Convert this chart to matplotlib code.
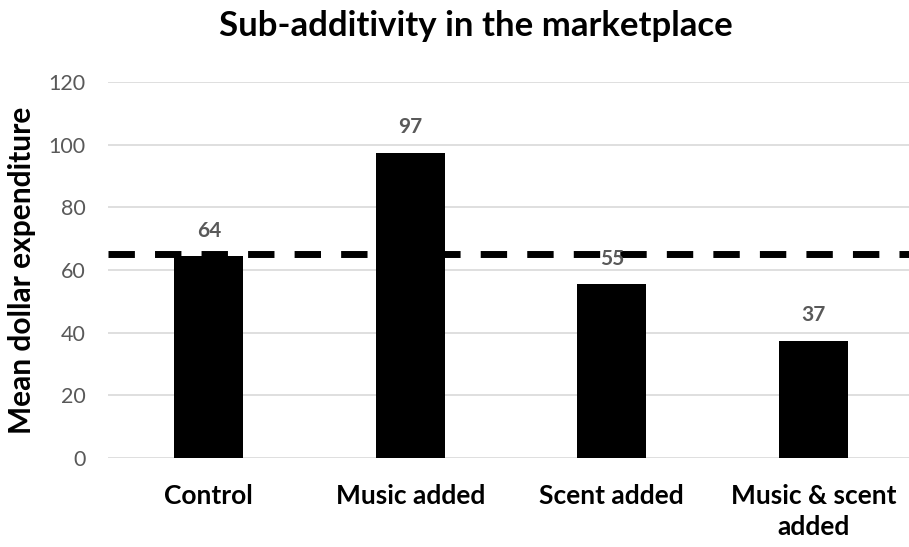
import matplotlib.pyplot as plt

categories = ["Control", "Music added", "Scent added", "Music & scent\nadded"]
values = [64.4, 97.4, 55.4, 37.4]
control_line = 65.2
yticks = [0, 20, 40, 60, 80, 100, 120]

plt.rcParams['font.family'] = ['Lato', 'DejaVu Sans']

fig = plt.figure(figsize=(9.09, 5.47), dpi=100)
ax = fig.add_axes([108 / 909, 1 - 458 / 547, 806 / 909, 376 / 547])

x = range(len(categories))
ax.bar(x, values, width=0.34, color="black", zorder=3)
ax.axhline(control_line, color="black", lw=5, dashes=(3.8, 2.9), zorder=4)

for xi, v in zip(x, values):
    ax.text(xi, v + 5.0, f"{v:.0f}", ha="center", va="bottom",
            fontsize=15, fontweight="bold", color="#595959", zorder=5)

ax.set_xlim(-0.5, len(categories) - 0.5)
ax.set_ylim(0, 120)
ax.set_yticks(yticks)
ax.yaxis.grid(True, color="#d9d9d9", lw=1.2, zorder=0)
for s in ax.spines.values():
    s.set_visible(False)
ax.tick_params(axis="y", length=0, labelsize=15.5, labelcolor="#595959", pad=16)
ax.tick_params(axis="x", length=0, pad=19)
ax.set_xticks(list(x))
ax.set_xticklabels(categories, fontsize=19, fontweight="bold", linespacing=1.35)
ax.set_ylabel("Mean dollar expenditure", fontsize=21.5, fontweight="bold", labelpad=9)

fig.text(0.524, 0.953, "Sub-additivity in the marketplace", ha="center", va="center",
         fontsize=25, fontweight="bold")

fig.savefig("out.png", dpi=100, facecolor="white")
